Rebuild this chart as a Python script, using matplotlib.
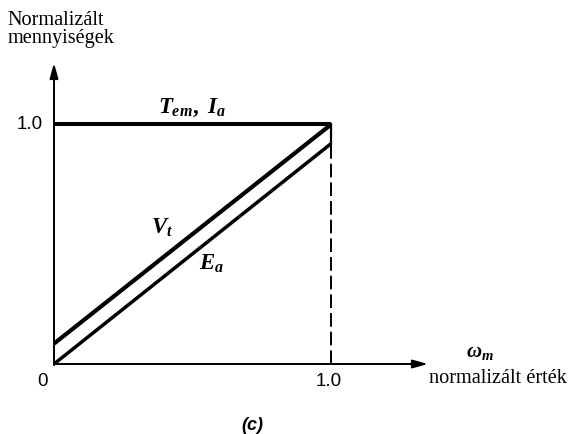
import matplotlib
matplotlib.use("Agg")
import matplotlib.pyplot as plt

# normalized quantities vs normalized speed (constant-torque region)
speed = [0.0, 1.0]
torque_current = [1.0, 1.0]
terminal_voltage = [0.085, 1.0]
back_emf = [0.0, 0.92]

x_ticks = [0.0, 1.0]
x_tick_labels = ["0", "1.0"]
y_ticks = [1.0]
y_tick_labels = ["1.0"]

plt.rcParams["mathtext.fontset"] = "custom"
plt.rcParams["mathtext.it"] = "Liberation Serif:italic:bold"
plt.rcParams["mathtext.rm"] = "Liberation Serif:bold"
plt.rcParams["mathtext.bf"] = "Liberation Serif:bold"

W, H = 570, 434
fig = plt.figure(figsize=(W / 100, H / 100), dpi=100)
fig.patch.set_facecolor("white")

# origin at (54, 364) px, one unit = 277 px across, 239.5 px up
x0, y0, ux, uy = 54, 364, 277.0, 239.5
ax = fig.add_axes([x0 / W, (H - y0) / H, (445 - x0) / W, (y0 - 55) / H])
ax.set_xlim(0, (445 - x0) / ux)
ax.set_ylim(0, (y0 - 55) / uy)
ax.axis("off")

# axes with arrow heads
arrow = dict(arrowstyle="-|>,head_length=0.9,head_width=0.25", lw=1.4, color="black",
             shrinkA=0, shrinkB=0)
ax.annotate("", xy=((428 - x0) / ux, 0), xytext=(0, 0), arrowprops=arrow,
            annotation_clip=False)
ax.annotate("", xy=(0, (y0 - 63) / uy), xytext=(0, -0.005), arrowprops=arrow,
            annotation_clip=False)

ax.plot(speed, torque_current, color="black", lw=2.9, solid_capstyle="butt")
ax.plot(speed, terminal_voltage, color="black", lw=3.0, solid_capstyle="butt")
ax.plot(speed, back_emf, color="black", lw=2.5, solid_capstyle="butt")

# dashed drop at rated speed, solid between E_a and V_t ends
ax.plot([speed[1], speed[1]], [0, back_emf[1]], color="black", lw=1.4,
        dashes=(7, 2.6))
ax.plot([speed[1], speed[1]], [back_emf[1], torque_current[1]], color="black",
        lw=1.6)
ax.plot([speed[1], speed[1]], [0, 0.025], color="black", lw=1.4)

tick_font = dict(family="Liberation Sans", fontsize=13.5, color="black")
for xv, lab in zip(x_ticks, x_tick_labels):
    if xv == 0:
        ax.text(-0.042, -0.071, lab, ha="center", va="center", **tick_font)
    else:
        ax.text(xv - 0.01, -0.038, lab, ha="center", va="top", **tick_font)
for yv, lab in zip(y_ticks, y_tick_labels):
    ax.text(-0.040, yv, lab, ha="right", va="center", **tick_font)

lab_font = dict(fontsize=16.5, color="black")
ax.text(0.375, 1.069, r"$T_{em},\ I_a$", ha="left", va="center", **lab_font)
ax.text(0.390, 0.572, r"$V_t$", ha="center", va="center", **lab_font)
ax.text(0.570, 0.418, r"$E_a$", ha="center", va="center", **lab_font)
ax.text(1.538, 0.050, r"$\omega_m$", ha="center", va="center", fontsize=15,
        color="black", clip_on=False)

serif = dict(family="Liberation Serif", fontsize=14.6, color="black")
fig.text(7 / W, 1 - 25 / H, "Normalizált", ha="left", va="baseline", **serif)
fig.text(8 / W, 1 - 43 / H, "mennyiségek", ha="left", va="baseline", **serif)
fig.text(429 / W, 1 - 383 / H, "normalizált érték", ha="left", va="baseline", **serif)

fig.text(252 / W, 1 - 425 / H, "(c)", ha="center", va="center", family="Liberation Sans",
         fontsize=13, fontweight="bold", fontstyle="italic")

fig.savefig("out.png", dpi=100, facecolor="white")
